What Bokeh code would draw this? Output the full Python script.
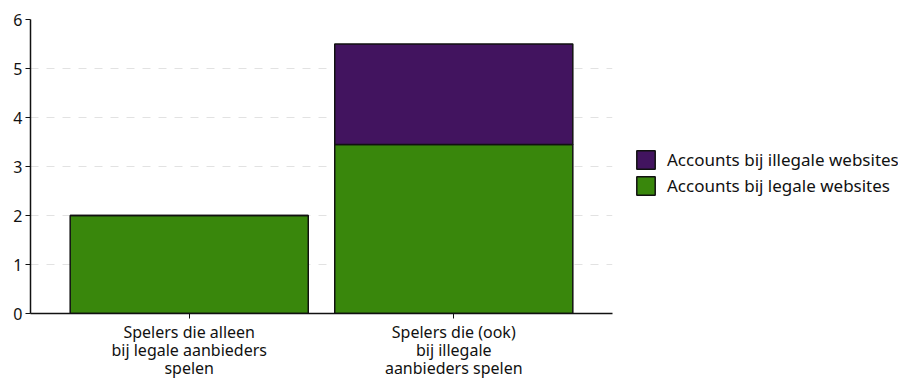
from bokeh.plotting import figure
from bokeh.models import ColumnDataSource, Range1d, FixedTicker, Legend, LegendItem, LinearAxis
from bokeh.embed import file_html
from bokeh.resources import INLINE

categories = ["Spelers die alleen\nbij legale aanbieders\nspelen",
              "Spelers die (ook)\nbij illegale\naanbieders spelen"]
positions = [0, 1]
legal = [2.0, 3.45]
illegal = [0.0, 2.05]
series_names = ["Accounts bij legale websites", "Accounts bij illegale websites"]
colors = ["#39870c", "#42145f"]
y_ticks = [0, 1, 2, 3, 4, 5, 6]

FONT = "Noto Sans"
TXT = "#111111"

source = ColumnDataSource(dict(x=positions, legal=legal, illegal=illegal))

p = figure(frame_width=582, frame_height=294, output_backend="svg", toolbar_location=None,
           x_range=Range1d(-0.6, 1.6), y_range=Range1d(0, 6), x_axis_location=None,
           min_border_left=30, min_border_top=19, min_border_bottom=0, min_border_right=10)

rs = p.vbar_stack(["legal", "illegal"], x="x", width=0.9, source=source,
                  color=colors, line_color="#111111", line_width=1.5)

p.outline_line_color = None
p.xgrid.grid_line_color = None
p.ygrid.grid_line_color = "#e2e2e2"
p.ygrid.grid_line_dash = "8 8"
p.ygrid.grid_line_width = 1

p.yaxis.ticker = FixedTicker(ticks=y_ticks)
p.yaxis.axis_line_color = "#111111"
p.yaxis.axis_line_width = 1.5
p.yaxis.major_tick_line_color = "#111111"
p.yaxis.major_tick_in = 0
p.yaxis.major_tick_out = 5
p.yaxis.minor_tick_line_color = None
p.yaxis.major_label_text_font = FONT
p.yaxis.major_label_text_color = TXT
p.yaxis.major_label_text_font_size = "16px"
p.yaxis.major_label_standoff = 3

# category labels: one axis per text line so the line spacing can be matched
lines = [lab.split("\n") for lab in categories]
n_lines = max(len(l) for l in lines)
for i in range(n_lines):
    ax = LinearAxis(ticker=FixedTicker(ticks=positions))
    ax.major_label_overrides = {pos: (l[i] if i < len(l) else "") for pos, l in zip(positions, lines)}
    ax.minor_tick_line_color = None
    ax.major_label_text_font = FONT
    ax.major_label_text_font_size = "16px"
    ax.major_label_text_color = TXT
    ax.axis_label_standoff = 0
    if i == 0:
        ax.axis_line_color = "#111111"
        ax.axis_line_width = 1.5
        ax.major_tick_line_color = "#111111"
        ax.major_tick_in = 0
        ax.major_tick_out = 5
        ax.major_label_standoff = 2
    else:
        ax.axis_line_color = None
        ax.major_tick_line_color = None
        ax.major_tick_in = 0
        ax.major_tick_out = 0
        ax.major_label_standoff = -7
    p.add_layout(ax, "below")

legend = Legend(items=[LegendItem(label=series_names[1], renderers=[rs[1]]),
                       LegendItem(label=series_names[0], renderers=[rs[0]])],
                location=(22, 116), orientation="vertical")
legend.glyph_width = 23
legend.glyph_height = 23
legend.spacing = 3
legend.label_standoff = 10
legend.label_text_font = FONT
legend.label_text_font_size = "17px"
legend.label_text_color = TXT
legend.border_line_color = None
legend.background_fill_alpha = 0
legend.margin = 0
legend.padding = 10
p.add_layout(legend, "right")

open("out.html", "w").write(file_html(p, INLINE))
